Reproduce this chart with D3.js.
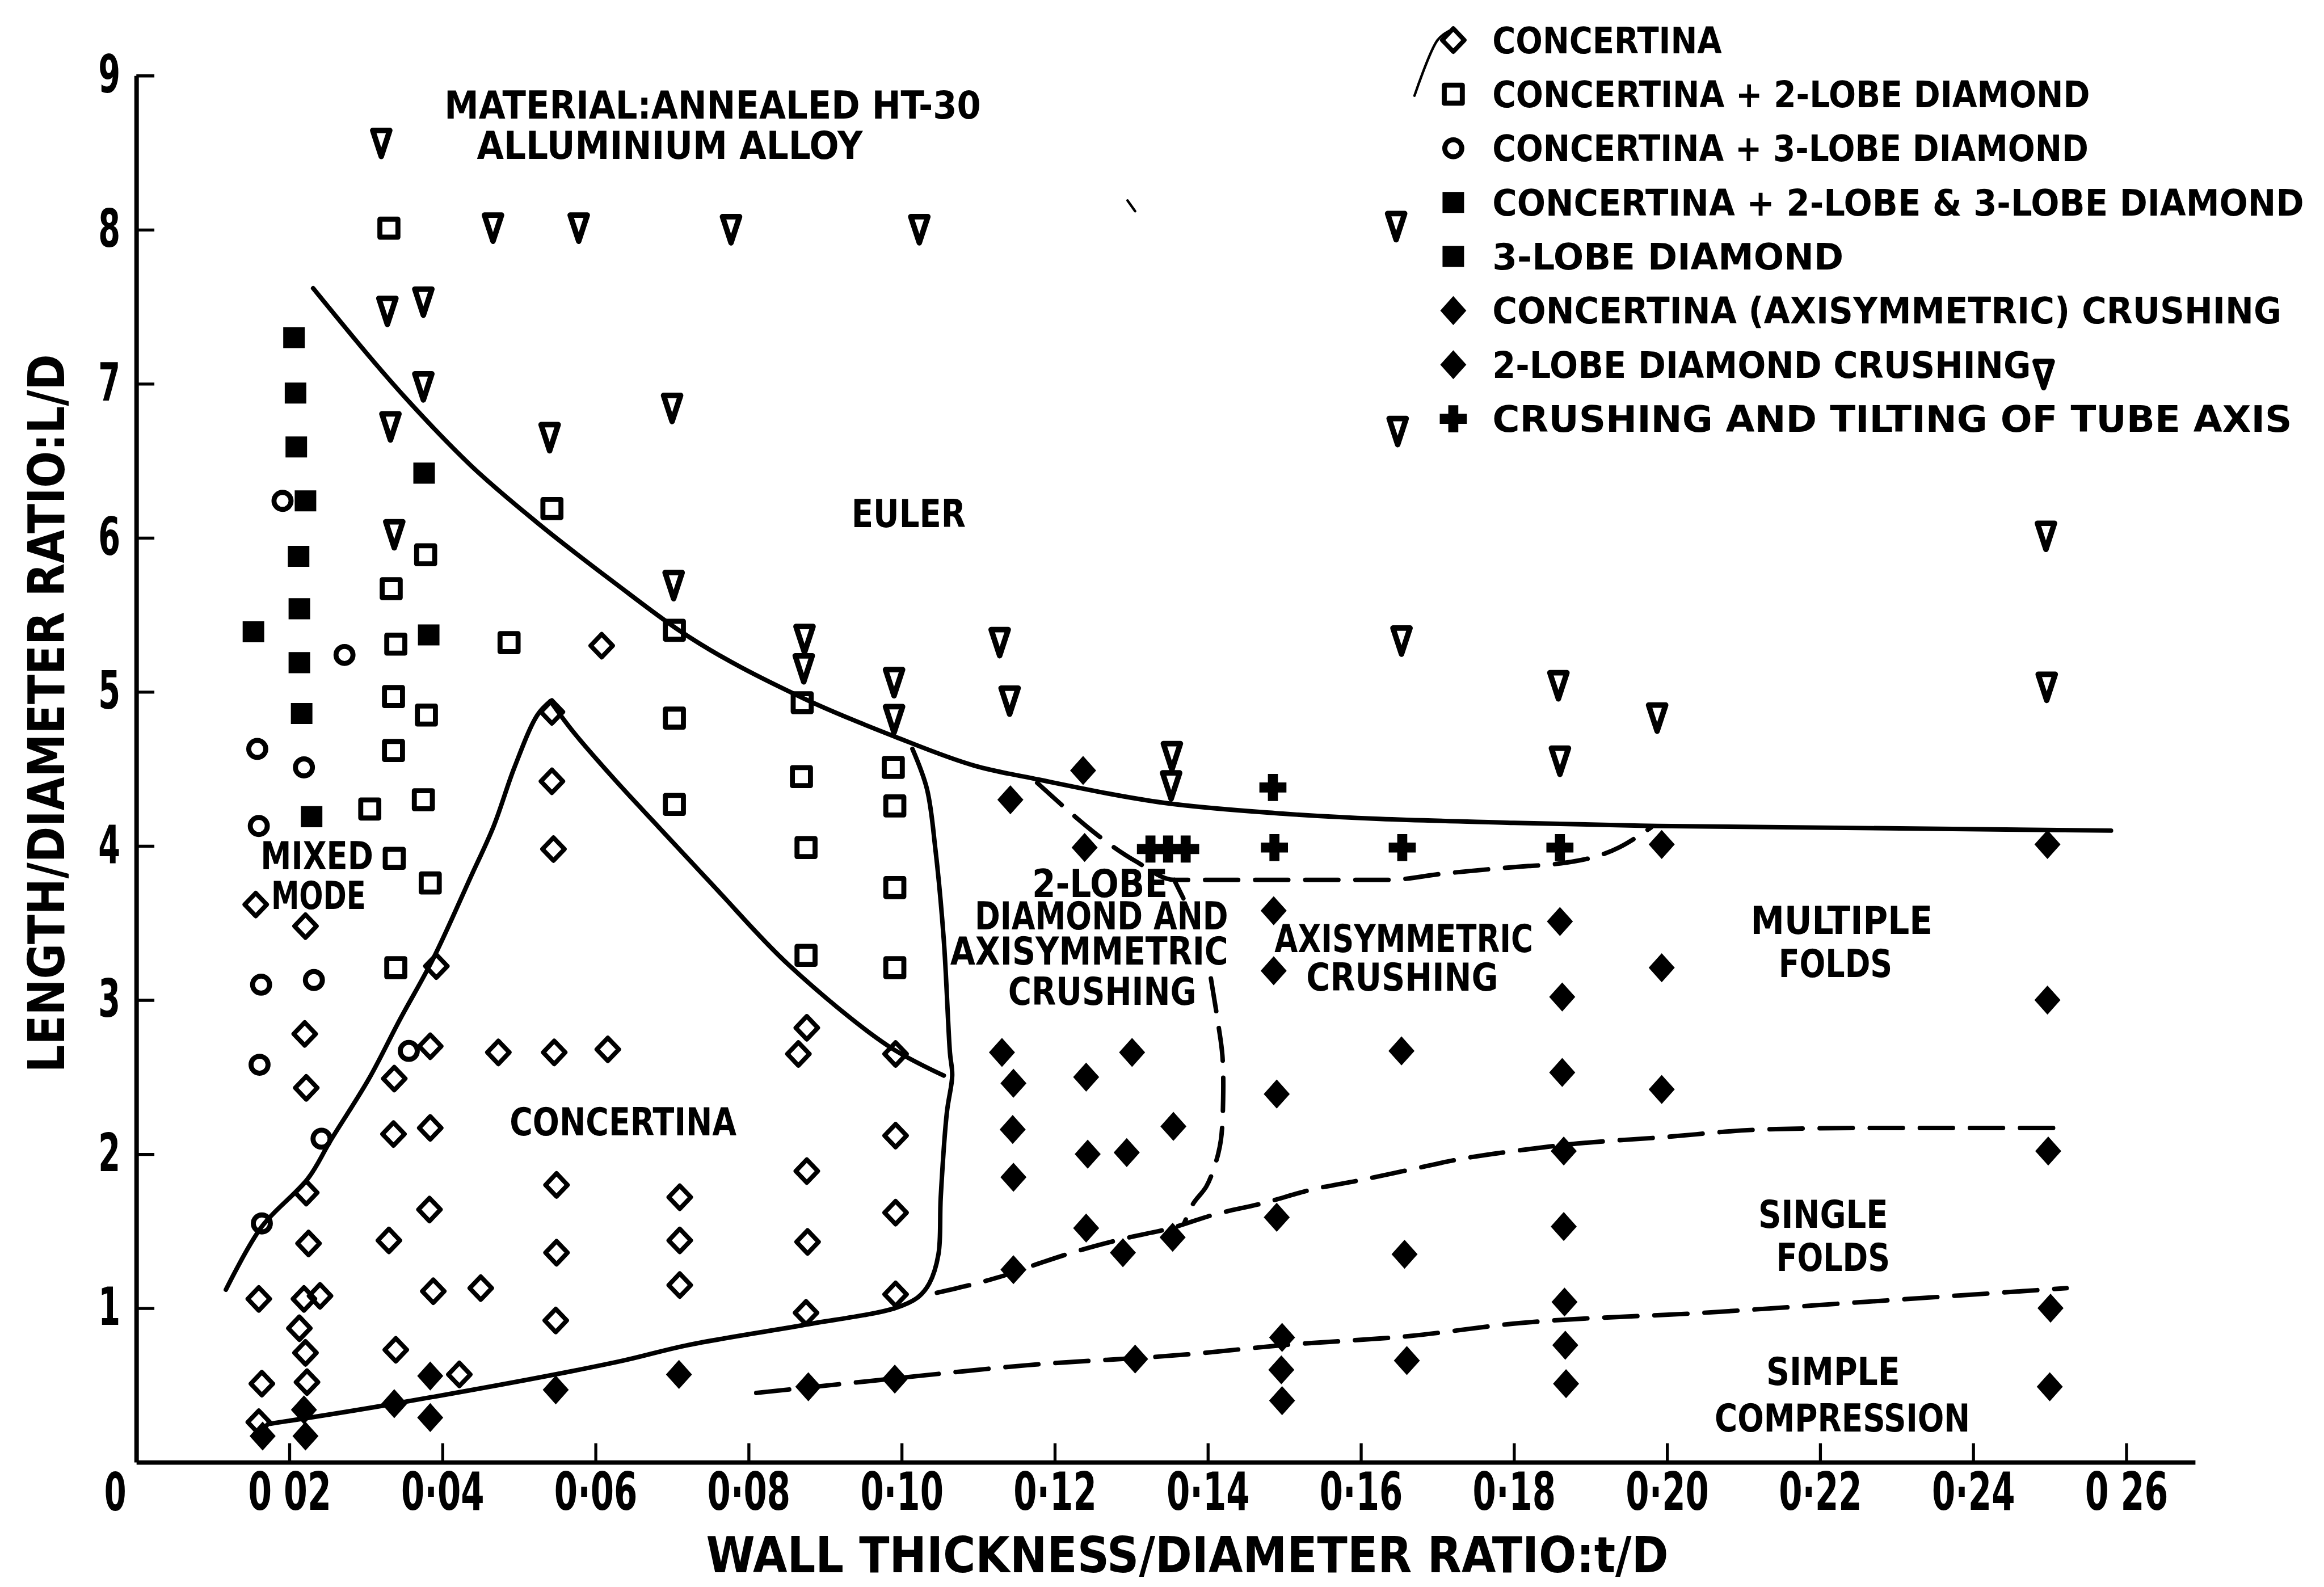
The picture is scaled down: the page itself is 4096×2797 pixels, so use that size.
<!DOCTYPE html>
<html>
<head>
<meta charset="utf-8">
<script src="https://cdn.jsdelivr.net/npm/d3@7"></script>
<style>
body{margin:0;background:#fff;}
svg{display:block;}
text{font-family:'Liberation Sans Narrow','DejaVu Sans Condensed','DejaVu Sans',sans-serif;font-weight:bold;fill:#000;}
</style>
</head>
<body>
<script>
////////////////////////////////////////////////////////////////////////////////
//Data: [t/D, L/D]
////////////////////////////////////////////////////////////////////////////////

//Concertina (open diamond)
var concertina = [[0.0608,5.30],[0.0543,4.87],[0.0543,4.42],[0.0545,3.98],[0.0156,3.62],[0.0221,3.48],[0.0392,3.22],
    [0.0220,2.78],[0.0222,2.43],[0.0384,2.70],[0.0337,2.49],[0.0473,2.66],[0.0546,2.66],[0.0616,2.68],[0.0336,2.13],
    [0.0384,2.17],[0.0222,1.75],[0.0549,1.80],[0.0383,1.64],[0.0330,1.44],[0.0225,1.42],[0.0549,1.36],[0.0160,1.06],
    [0.0219,1.06],[0.0240,1.08],[0.0388,1.11],[0.0450,1.13],[0.0548,0.92],[0.0213,0.87],[0.0221,0.71],[0.0339,0.73],
    [0.0223,0.52],[0.0164,0.51],[0.0422,0.57],[0.0160,0.26],[0.0876,2.82],[0.0865,2.65],[0.0992,2.65],[0.0992,2.12],
    [0.0876,1.89],[0.0710,1.72],[0.0710,1.44],[0.0992,1.62],[0.0877,1.43],[0.0710,1.15],[0.0992,1.09],[0.0875,0.97]]

//Concertina + 2-lobe diamond (open square)
var concertina2Lobe = [[0.0330,8.01],[0.0543,6.19],[0.0378,5.89],[0.0333,5.67],[0.0339,5.31],[0.0487,5.32],[0.0703,5.40],
    [0.0336,4.97],[0.0379,4.85],[0.0703,4.83],[0.0870,4.93],[0.0336,4.62],[0.0375,4.30],[0.0305,4.24],[0.0703,4.27],
    [0.0337,3.92],[0.0384,3.76],[0.0339,3.21],[0.0989,4.51],[0.0869,4.45],[0.0991,4.26],[0.0875,3.99],[0.0991,3.73],
    [0.0875,3.29],[0.0991,3.21]]

//Concertina + 3-lobe diamond (open circle)
var concertina3Lobe = [[0.0191,6.24],[0.0272,5.24],[0.0158,4.63],[0.0219,4.51],[0.0160,4.13],[0.0163,3.10],[0.0232,3.13],
    [0.0161,2.58],[0.0356,2.67],[0.0242,2.10],[0.0164,1.55]]

//Concertina + 2-lobe & 3-lobe diamond, 3-lobe diamond (filled square)
var mixedLobe = [[0.0206,7.30],[0.0208,6.94],[0.0209,6.59],[0.0221,6.24],[0.0212,5.88],[0.0213,5.54],[0.0153,5.39],
    [0.0213,5.19],[0.0216,4.86],[0.0229,4.19],[0.0376,6.42],[0.0382,5.37]]

//Axisymmetric and 2-lobe diamond crushing (filled diamond)
var crushing = [[0.0384,0.56],[0.0548,0.47],[0.0337,0.38],[0.0219,0.34],[0.0384,0.29],[0.0165,0.17],[0.0221,0.17],
    [0.1142,4.30],[0.1131,2.66],[0.1146,2.46],[0.1145,2.16],[0.1146,1.85],[0.1146,1.25],[0.0709,0.57],[0.0878,0.49],
    [0.0991,0.54],[0.1237,4.49],[0.1239,3.99],[0.1486,3.58],[0.1486,3.19],[0.1301,2.66],[0.1241,2.50],[0.1653,2.67],
    [0.1490,2.39],[0.1355,2.18],[0.1243,2.00],[0.1294,2.01],[0.1241,1.52],[0.1289,1.36],[0.1354,1.46],[0.1490,1.59],
    [0.1657,1.35],[0.1305,0.67],[0.1497,0.81],[0.1496,0.60],[0.1497,0.40],[0.1660,0.66],[0.1993,4.01],[0.2497,4.01],
    [0.1860,3.51],[0.1993,3.21],[0.1863,3.02],[0.2497,3.00],[0.1863,2.53],[0.1993,2.42],[0.1865,2.02],[0.2498,2.02],
    [0.1865,1.53],[0.1866,1.04],[0.1867,0.76],[0.1868,0.51],[0.2501,1.00],[0.2500,0.49]]

//Crushing and tilting of tube axis (filled cross)
var crushTilt = [[0.1485,4.38],[0.1325,3.98],[0.1348,3.98],[0.1371,3.98],[0.1487,3.99],[0.1654,3.99],[0.1860,3.99]]

//Euler buckling (open triangle)
var euler = [[0.0320,8.56],[0.0466,8.01],[0.0578,8.01],[0.0777,8.00],[0.1023,8.00],[0.1646,8.02],[0.0328,7.47],
    [0.0375,7.53],[0.0375,6.98],[0.0332,6.72],[0.0700,6.84],[0.0540,6.65],[0.1648,6.69],[0.0337,6.02],[0.0702,5.69],
    [0.0873,5.34],[0.0872,5.15],[0.1128,5.32],[0.1141,4.94],[0.0990,5.06],[0.0990,4.82],[0.1653,5.33],[0.1353,4.58],
    [0.1352,4.39],[0.1858,5.04],[0.1987,4.83],[0.1860,4.55],[0.2496,5.03],[0.2495,6.01],[0.2492,7.06]]

////Boundary curves
var eulerCurve = [[0.0231,7.62],[0.0357,6.88],[0.0437,6.47],[0.0521,6.11],[0.0627,5.70],[0.0709,5.40],[0.0871,4.96],
    [0.0991,4.71],[0.1096,4.52],[0.1180,4.43],[0.1343,4.28],[0.1498,4.21],[0.1800,4.15],[0.1987,4.13],[0.2580,4.10]]
var concertinaUp = [[0.0117,1.12],[0.0164,1.53],[0.0224,1.84],[0.0254,2.09],[0.0304,2.49],[0.0344,2.87],[0.0388,3.27],
    [0.0437,3.80],[0.0467,4.13],[0.0494,4.51],[0.0524,4.85],[0.0541,4.94]]
var concertinaDown = [[0.0541,4.94],[0.0571,4.74],[0.0627,4.42],[0.0683,4.12],[0.0758,3.72],[0.0852,3.23],[0.0983,2.70],
    [0.1055,2.51]]
var concertinaEdge = [[0.1014,4.63],[0.1033,4.37],[0.1044,3.98],[0.1055,3.39],[0.1063,2.66],[0.1066,2.51],[0.1059,2.27],
    [0.1051,1.72],[0.1048,1.35],[0.1036,1.16],[0.1021,1.07],[0.0991,1.00],[0.0871,0.89],[0.0720,0.76],[0.0627,0.65],
    [0.0337,0.38],[0.0175,0.25]]
var dashTop = [[0.1177,4.41],[0.1306,3.90],[0.1356,3.78],[0.1636,3.78],[0.1707,3.82],[0.1819,3.87],[0.1849,3.88],
    [0.1937,3.99],[0.1979,4.12]]
var dashHook = [[0.1356,3.78],[0.1368,3.66]]
var dashVertical = [[0.1404,3.14],[0.1414,2.83],[0.1419,2.64],[0.1420,2.36],[0.1417,2.09],[0.1410,1.94],[0.1398,1.79],
    [0.1381,1.68],[0.1369,1.55]]
var dashMid = [[0.1046,1.10],[0.1089,1.15],[0.1126,1.20],[0.1179,1.29],[0.1229,1.37],[0.1289,1.45],[0.1352,1.52],
    [0.1410,1.61],[0.1471,1.68],[0.1536,1.77],[0.1598,1.83],[0.1665,1.90],[0.1732,1.97],[0.1800,2.02],[0.1865,2.06],
    [0.1995,2.11],[0.2125,2.16],[0.2256,2.17],[0.2517,2.17]]
var dashLow = [[0.0810,0.45],[0.0983,0.54],[0.1164,0.63],[0.1373,0.70],[0.1498,0.76],[0.1665,0.82],[0.1800,0.90],
    [0.2047,0.97],[0.2256,1.04],[0.2522,1.13]]

//Stray pen marks on the scan
var strayMarks = [[[0.1670,8.87],[0.1700,9.23],[0.1715,9.29]],[[0.1295,8.19],[0.1305,8.12]]]

////Ticks
var xTicks = [0.02,0.04,0.06,0.08,0.10,0.12,0.14,0.16,0.18,0.20,0.22,0.24,0.26]
var xTickLabels = ["0 02","0·04","0·06","0·08","0·10","0·12","0·14","0·16","0·18","0·20","0·22","0·24","0 26"]
var yTicks = [1,2,3,4,5,6,7,8,9]

////Region labels (data position of the text centre / baseline)
var regionLabels = [
    {text:"MATERIAL:ANNEALED HT-30", x:0.0753, y:8.72, w:1071},
    {text:"ALLUMINIUM ALLOY", x:0.0697, y:8.46, w:770},
    {text:"EULER", x:0.1009, y:6.07, w:228},
    {text:"MIXED", x:0.0236, y:3.85, w:225},
    {text:"MODE", x:0.0238, y:3.59, w:189},
    {text:"CONCERTINA", x:0.0636, y:2.12, w:453},
    {text:"2-LOBE", x:0.1259, y:3.67, w:271},
    {text:"DIAMOND AND", x:0.1261, y:3.46, w:506},
    {text:"AXISYMMETRIC", x:0.1245, y:3.23, w:555},
    {text:"CRUSHING", x:0.1262, y:2.97, w:376},
    {text:"AXISYMMETRIC", x:0.1656, y:3.31, w:516},
    {text:"CRUSHING", x:0.1654, y:3.06, w:383},
    {text:"MULTIPLE", x:0.2228, y:3.43, w:363},
    {text:"FOLDS", x:0.2220, y:3.15, w:227},
    {text:"SINGLE", x:0.2204, y:1.52, w:259},
    {text:"FOLDS", x:0.2217, y:1.24, w:227},
    {text:"SIMPLE", x:0.2217, y:0.50, w:267},
    {text:"COMPRESSION", x:0.2229, y:0.20, w:510}
]

////Legend
var legendItems = [
    {label:"CONCERTINA", shape:"diamondOpen", w:458},
    {label:"CONCERTINA + 2-LOBE DIAMOND", shape:"squareOpen", w:1193},
    {label:"CONCERTINA + 3-LOBE DIAMOND", shape:"circleOpen", w:1190},
    {label:"CONCERTINA + 2-LOBE & 3-LOBE DIAMOND", shape:"squareFilled", w:1620},
    {label:"3-LOBE DIAMOND", shape:"squareFilled", w:701},
    {label:"CONCERTINA (AXISYMMETRIC) CRUSHING", shape:"diamondFilled", w:1575},
    {label:"2-LOBE DIAMOND CRUSHING", shape:"diamondFilled", w:1075},
    {label:"CRUSHING AND TILTING OF TUBE AXIS", shape:"crossFilled", w:1596}
]

////////////////////////////////////////////////////////////////////////////////
//Creating the chart
////////////////////////////////////////////////////////////////////////////////

var W = 4639, H = 3168 //Reference size, scaled down by the viewBox

var svg = d3.select("body").append("svg")
    .attr("width",4096).attr("height",2797)
    .attr("viewBox","0 0 " + W + " " + H)

svg.append("rect").attr("width",W).attr("height",H).attr("fill","#fff")

var x = d3.scaleLinear().domain([0,0.269]).range([272,4382])
var y = d3.scaleLinear().domain([0,9]).range([2919,151])

////Marker shapes as d3 symbol types
var shapes = {
    triangleOpen: {type:{draw:function(c){c.moveTo(-17,-26);c.lineTo(17,-26);c.lineTo(0,26);c.closePath()}}, fill:false, stroke:11},
    squareOpen: {type:{draw:function(c){c.moveTo(-18,-18);c.lineTo(18,-18);c.lineTo(18,18);c.lineTo(-18,18);c.closePath()}}, fill:false, stroke:10},
    circleOpen: {type:{draw:function(c){c.moveTo(17,0);c.arc(0,0,17,0,2*Math.PI)}}, fill:false, stroke:10},
    squareFilled: {type:{draw:function(c){c.moveTo(-21.5,-21);c.lineTo(21.5,-21);c.lineTo(21.5,21);c.lineTo(-21.5,21);c.closePath()}}, fill:true},
    diamondOpen: {type:{draw:function(c){c.moveTo(0,-23);c.lineTo(22,0);c.lineTo(0,23);c.lineTo(-22,0);c.closePath()}}, fill:false, stroke:9},
    diamondFilled: {type:{draw:function(c){c.moveTo(0,-29);c.lineTo(26,0);c.lineTo(0,29);c.lineTo(-26,0);c.closePath()}}, fill:true},
    crossFilled: {type:{draw:function(c){
        c.moveTo(-10,-27);c.lineTo(10,-27);c.lineTo(10,-10);c.lineTo(27,-10);c.lineTo(27,10);c.lineTo(10,10);
        c.lineTo(10,27);c.lineTo(-10,27);c.lineTo(-10,10);c.lineTo(-27,10);c.lineTo(-27,-10);c.lineTo(-10,-10);c.closePath()}}, fill:true}
}

function styleMarker(sel, shape){
    var s = shapes[shape]
    sel.attr("d", d3.symbol().type(s.type))
        .attr("fill", s.fill ? "#000" : "none")
        .attr("stroke", s.fill ? "none" : "#000")
        .attr("stroke-width", s.fill ? 0 : s.stroke)
        .attr("stroke-linejoin","round")
}

////Axes
var xAxis = d3.axisBottom(x).tickValues(xTicks).tickSizeInner(-38).tickSizeOuter(0).tickPadding(21)
    .tickFormat(function(d,i){return xTickLabels[i]})
var yAxis = d3.axisLeft(y).tickValues(yTicks).tickSizeInner(-36).tickSizeOuter(0).tickPadding(32)
    .tickFormat(d3.format("d"))

var gx = svg.append("g").attr("transform","translate(0," + y(0) + ")").call(xAxis)
var gy = svg.append("g").attr("transform","translate(" + x(0) + ",0)").call(yAxis)

gx.select(".domain").attr("stroke-width",9)
gy.select(".domain").attr("stroke-width",9)
svg.selectAll(".tick line").attr("stroke-width",6)
gx.selectAll("text").attr("font-size",104).attr("textLength",166).attr("lengthAdjust","spacingAndGlyphs")
gy.selectAll("text").attr("font-size",104).attr("textLength",44).attr("lengthAdjust","spacingAndGlyphs")
svg.selectAll("g").attr("font-family",null)

//The shared zero at the origin
svg.append("text").attr("x",x(0)-42).attr("y",y(0)+96)
    .attr("text-anchor","middle").attr("font-size",104)
    .attr("textLength",44).attr("lengthAdjust","spacingAndGlyphs").text("0")

//Axis titles
svg.append("text").attr("x",2370).attr("y",3138)
    .attr("text-anchor","middle").attr("font-size",98)
    .attr("textLength",1921).attr("lengthAdjust","spacingAndGlyphs")
    .text("WALL THICKNESS/DIAMETER RATIO:t/D")

svg.append("text").attr("transform","translate(128,1424) rotate(-90)")
    .attr("text-anchor","middle").attr("font-size",100)
    .attr("textLength",1434).attr("lengthAdjust","spacingAndGlyphs")
    .text("LENGTH/DIAMETER RATIO:L/D")

////Boundary curves
var smoothX = d3.line().x(function(d){return x(d[0])}).y(function(d){return y(d[1])}).curve(d3.curveMonotoneX)
var smooth = d3.line().x(function(d){return x(d[0])}).y(function(d){return y(d[1])}).curve(d3.curveCatmullRom.alpha(0.5))

var curves = svg.append("g").attr("fill","none").attr("stroke","#000").attr("stroke-width",9)
    .attr("stroke-linecap","round").attr("stroke-linejoin","round")

curves.append("path").attr("d",smoothX(eulerCurve))
curves.append("path").attr("d",smooth(concertinaUp))
curves.append("path").attr("d",smooth(concertinaDown))
curves.append("path").attr("d",smooth(concertinaEdge))

var dashed = [[dashTop,smoothX],[dashHook,smooth],[dashVertical,smooth],[dashMid,smoothX],[dashLow,smoothX]]
dashed.forEach(function(p){
    curves.append("path").attr("d",p[1](p[0])).attr("stroke-dasharray","66 34")
})

strayMarks.forEach(function(m){
    curves.append("path").attr("d",smooth(m)).attr("stroke-width",5)
})

////Region labels
svg.append("g").selectAll("text").data(regionLabels).enter().append("text")
    .attr("x",function(d){return x(d.x)})
    .attr("y",function(d){return y(d.y)})
    .attr("text-anchor","middle")
    .attr("font-size",76)
    .attr("textLength",function(d){return d.w})
    .attr("lengthAdjust","spacingAndGlyphs")
    .text(function(d){return d.text})

////Data markers
var series = [
    [concertina,"diamondOpen"],
    [concertina2Lobe,"squareOpen"],
    [concertina3Lobe,"circleOpen"],
    [mixedLobe,"squareFilled"],
    [crushing,"diamondFilled"],
    [crushTilt,"crossFilled"],
    [euler,"triangleOpen"]
]

series.forEach(function(s){
    svg.append("g").selectAll("path").data(s[0]).enter().append("path")
        .attr("transform",function(d){return "translate(" + x(d[0]) + "," + y(d[1]) + ")"})
        .call(styleMarker,s[1])
})

////Legend
var legend = svg.append("g").attr("transform","translate(2901,80)")
var rows = legend.selectAll("g").data(legendItems).enter().append("g")
    .attr("transform",function(d,i){return "translate(0," + (i*108) + ")"})

rows.append("path").each(function(d){d3.select(this).call(styleMarker,d.shape)})
rows.append("text").attr("x",78).attr("y",26)
    .attr("font-size",72)
    .attr("textLength",function(d){return d.w})
    .attr("lengthAdjust","spacingAndGlyphs")
    .text(function(d){return d.label})
</script>
</body>
</html>
